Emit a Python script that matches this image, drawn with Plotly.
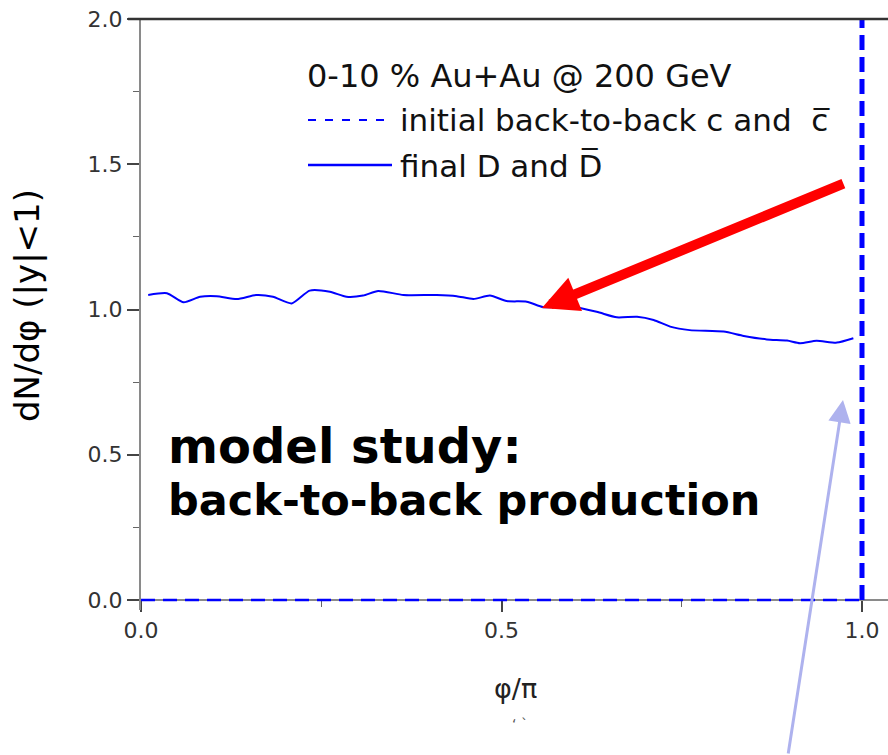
import plotly.graph_objects as go

# ---- data ----
phi_final = [0.010, 0.036, 0.059, 0.082, 0.105, 0.133, 0.160, 0.183, 0.209, 0.234,
             0.262, 0.285, 0.308, 0.329, 0.364, 0.410, 0.438, 0.461, 0.484, 0.507,
             0.535, 0.558, 0.595, 0.632, 0.660, 0.688, 0.711, 0.734, 0.761, 0.808,
             0.836, 0.868, 0.896, 0.914, 0.937, 0.965, 0.988]
dn_final = [1.050, 1.056, 1.025, 1.044, 1.046, 1.036, 1.050, 1.044, 1.021, 1.065,
            1.061, 1.044, 1.048, 1.064, 1.050, 1.050, 1.046, 1.036, 1.048, 1.029,
            1.027, 1.008, 1.010, 0.992, 0.973, 0.975, 0.964, 0.941, 0.929, 0.924,
            0.909, 0.897, 0.893, 0.884, 0.892, 0.886, 0.901]

init_phi = [0.0, 1.0, 1.0]
init_dn = [0.0, 0.0, 2.0]

x_tickvals = [0.0, 0.5, 1.0]
x_ticktext = ["0.0", "0.5", "1.0"]
y_tickvals = [0.0, 0.5, 1.0, 1.5, 2.0]
y_ticktext = ["0.0", "0.5", "1.0", "1.5", "2.0"]

FONT = "DejaVu Sans"
BLUE = "#0000ff"

W, H = 888, 755
ML, MR, MT, MB = 141, 0, 19, 145
PW = W - ML - MR
PH = H - MT - MB


def px(xp):
    return (xp - ML) / PW


def py(yp):
    return (H - MB - yp) / PH


fig = go.Figure()

# initial back-to-back: horizontal thin dashed part and vertical thick dashed part
fig.add_trace(go.Scatter(x=init_phi[:2], y=init_dn[:2], mode="lines",
                         line=dict(color=BLUE, width=2.5, dash="14px,8px"),
                         showlegend=False, hoverinfo="skip"))
fig.add_trace(go.Scatter(x=init_phi[1:], y=init_dn[1:], mode="lines",
                         line=dict(color=BLUE, width=5, dash="15px,7px"),
                         showlegend=False, hoverinfo="skip"))
# final D and Dbar
fig.add_trace(go.Scatter(x=phi_final, y=dn_final, mode="lines",
                         line=dict(color=BLUE, width=2, shape="spline", smoothing=0.6),
                         showlegend=False))

ymin = -10 / 290.5

fig.update_layout(
    width=W, height=H,
    margin=dict(l=ML, r=MR, t=MT, b=MB),
    paper_bgcolor="white", plot_bgcolor="white",
    font=dict(family=FONT, color="#222"),
    showlegend=False,
    xaxis=dict(range=[0, PW / 721.0], anchor="free", position=(-ymin) / (2 - ymin),
               showgrid=False, zeroline=False, showline=True, linecolor="#8a8a8a",
               linewidth=2, layer="below traces",
               tickmode="array", tickvals=x_tickvals, ticktext=x_ticktext,
               ticks="outside", ticklen=11, tickwidth=1.5, tickcolor="#444",
               minor=dict(dtick=0.25, tick0=0, ticks="outside", ticklen=6,
                          tickcolor="#666", tickwidth=1),
               tickfont=dict(family=FONT, size=22, color="#333")),
    yaxis=dict(range=[ymin, 2.0], showgrid=False, zeroline=False, showline=True,
               linecolor="#8a8a8a", linewidth=2,
               tickmode="array", tickvals=y_tickvals, ticktext=y_ticktext,
               ticks="outside", ticklen=12, tickwidth=1.5, tickcolor="#444",
               minor=dict(dtick=0.25, tick0=0, ticks="outside", ticklen=6,
                          tickcolor="#666", tickwidth=1),
               tickfont=dict(family=FONT, size=22, color="#333")),
    yaxis2=dict(range=[ymin, 2.0], overlaying="y", side="right", anchor="x",
                showgrid=False, zeroline=False, showline=False,
                tickmode="array", tickvals=[0.5, 1.0, 1.5], showticklabels=False,
                ticks="inside", ticklen=6, tickcolor="#555", tickwidth=1.5),
)

shapes = [
    # top frame line
    dict(type="line", xref="paper", yref="paper", x0=px(128), x1=1.0, y0=1, y1=1,
         line=dict(color="#333", width=2.5)),
    # legend samples
    dict(type="line", xref="paper", yref="paper", x0=px(308), x1=px(392),
         y0=py(120), y1=py(120), line=dict(color=BLUE, width=2, dash="8px,9px")),
    dict(type="line", xref="paper", yref="paper", x0=px(308), x1=px(392),
         y0=py(165), y1=py(165), line=dict(color=BLUE, width=2.5)),
]
fig.update_layout(shapes=shapes)

ann = [
    dict(text="0-10 % Au+Au @ 200 GeV", x=px(305), y=py(76), size=32),
    dict(text="initial back-to-back c and  c\u0305", x=px(398), y=py(120), size=31),
    dict(text="final D and D\u0305", x=px(398), y=py(165), size=31),
    dict(text="<b>model study:</b>", x=px(166), y=py(446), size=48, color="#000"),
    dict(text="<b>back-to-back production</b>", x=px(166), y=py(500), size=43, color="#000"),
]
annotations = []
for a in ann:
    annotations.append(dict(text=a["text"], x=a["x"], y=a["y"], xref="paper", yref="paper",
                            xanchor="left", yanchor="middle", showarrow=False,
                            font=dict(family=FONT, size=a["size"], color=a.get("color", "#111"))))

# axis titles
annotations.append(dict(text="dN/d\u03c6 (|y|<1)", x=px(27), y=py(305), xref="paper", yref="paper",
                        xanchor="center", yanchor="middle", textangle=-90, showarrow=False,
                        font=dict(family=FONT, size=34, color="#000")))
annotations.append(dict(text="\u03c6/\u03c0", x=px(515), y=py(688), xref="paper", yref="paper",
                        xanchor="center", yanchor="middle", showarrow=False,
                        font=dict(family=FONT, size=27, color="#222")))
annotations.append(dict(text="\u2018 \u02cb", x=px(520), y=py(724), xref="paper", yref="paper",
                        xanchor="center", yanchor="middle", showarrow=False,
                        font=dict(family=FONT, size=14, color="#555")))

# red arrow
annotations.append(dict(text="", x=0.556, y=1.005, xref="x", yref="y",
                        ax=303, ay=-125, axref="pixel", ayref="pixel",
                        showarrow=True, arrowhead=2, arrowsize=0.72, arrowwidth=10,
                        arrowcolor="#ff0000"))
# lavender arrow
annotations.append(dict(text="", x=(843 - ML) / 721.0, y=(600 - 400) / 290.5, xref="x", yref="y",
                        ax=-55, ay=355, axref="pixel", ayref="pixel",
                        showarrow=True, arrowhead=2, arrowsize=1.5, arrowwidth=3,
                        arrowcolor="#aeb2ee"))
fig.update_layout(annotations=annotations)

fig.write_html("out.html")
